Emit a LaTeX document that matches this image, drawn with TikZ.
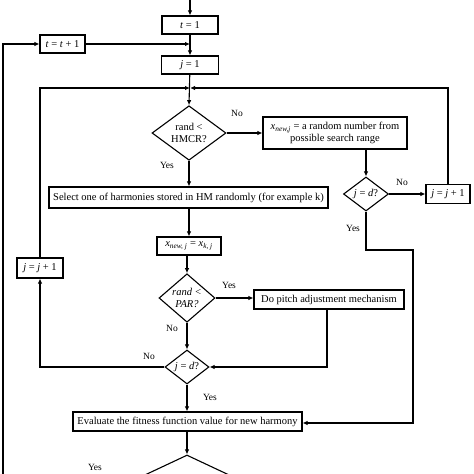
\documentclass[tikz,border=0pt]{standalone}
\usepackage{fontspec}
\setmainfont{Liberation Serif}
\usetikzlibrary{shapes.geometric,arrows.meta}
\begin{document}
\begin{tikzpicture}[x=1pt,y=-1pt,
  every node/.style={font=\fontsize{10.5}{11.5}\selectfont},
  box/.style={draw,line width=1.1pt,rectangle,inner sep=1pt,minimum height=18pt},
  dia/.style={draw,line width=1.1pt,diamond,inner sep=0pt,align=center,font=\fontsize{10.5}{11.5}\selectfont},
  lab/.style={font=\fontsize{9.5}{10}\selectfont,inner sep=1pt},
  con/.style={line width=1.1pt,-{Latex[length=5pt,width=4.5pt]}},
  ln/.style={line width=1.1pt}]
\useasboundingbox (0,0) rectangle (474,474);
\clip (0,0) rectangle (474,474);
% nodes
\node[box,minimum width=56pt] (t1) at (190,25) {\textit{t} = 1};
\node[box,minimum width=45pt] (tt) at (62.5,44) {\textit{t} = \textit{t} + 1};
\node[box,minimum width=57pt] (j1) at (190,65) {\textit{j} = 1};
\node[dia,minimum width=74pt,minimum height=52pt] (hmcr) at (189,133) {rand <\\HMCR?};
\node[box,minimum width=144pt,minimum height=32pt,align=center] (xnew) at (335,133)
  {\textit{x}\textsubscript{\textit{new,j}} = a random number from\\possible search range};
\node[dia,minimum width=45pt,minimum height=34pt] (jd1) at (366,194) {\textit{j} = \textit{d}?};
\node[box,minimum width=44pt,minimum height=19pt] (jj1) at (448,194) {\textit{j} = \textit{j} + 1};
\node[box,minimum width=279pt,minimum height=21pt] (sel) at (188.5,197.5)
  {Select one of harmonies stored in HM randomly (for example k)};
\node[box,minimum width=64pt] (xk) at (189,246)
  {\textit{x}\textsubscript{\textit{new, j}} = \textit{x}\textsubscript{\textit{k, j}}};
\node[dia,minimum width=56pt,minimum height=42pt] (par) at (187,298) {\textit{rand <}\\\textit{PAR?}};
\node[box,minimum width=150pt,minimum height=19pt] (pitch) at (329,299.5) {Do pitch adjustment mechanism};
\node[dia,minimum width=44pt,minimum height=34pt] (jd2) at (187,367) {\textit{j} = \textit{d}?};
\node[box,minimum width=46pt,minimum height=20pt] (jj2) at (40,268) {\textit{j} = \textit{j} + 1};
\node[box,minimum width=229pt,minimum height=19pt] (eval) at (187.5,421.5)
  {Evaluate the fitness function value for new harmony};
\node[dia,minimum width=170pt,minimum height=80pt] (last) at (187,495) {};
% coordinates
\coordinate (top) at (190,0);
\coordinate (lb) at (3,480);
\coordinate (junc) at (190,88);
% connectors
\draw[con] (top) -- (t1.north);
\draw[con] (t1) -- (j1);
\draw[con] (lb) -- (3,44) -- (tt.west);
\draw[con] (tt.east) -- (tt.east -| t1);
\draw[con] (j1) -- (hmcr.north);
\draw[con] (jj2.north) |- (junc);
\draw[con] (jj1.north) |- (junc);
\draw[con] (hmcr.east) -- (xnew.west |- hmcr.east);
\node[lab] (no1) at (237,113) {No};
\draw[con] (hmcr.south) -- (hmcr.south |- sel.north);
\node[lab] (yes1) at (167,165) {Yes};
\draw[con] (xnew.south -| jd1) -- (jd1.north);
\draw[con] (jd1.east) -- (jj1.west);
\node[lab] (no2) at (402,182) {No};
\draw[con] (jd1.south) -- (366,250) -- (413,250) -- (413,423) -- (eval.east |- 0,423);
\node[lab] (yes2) at (353,228) {Yes};
\draw[con] (sel.south -| xk) -- (xk.north);
\draw[con] (xk.south -| par) -- (par.north);
\draw[con] (par.east) -- (pitch.west |- par.east);
\node[lab] (yes3) at (229,285) {Yes};
\draw[con] (par.south) -- (jd2.north);
\node[lab] (no3) at (172,328) {No};
\draw[con] (pitch.south -| 327,0) -- (327,367) -- (jd2.east);
\draw[con] (jd2.west) -- (40,367) -- (jj2.south);
\node[lab] (no4) at (149,356) {No};
\draw[con] (jd2.south) -- (jd2.south |- eval.north);
\node[lab] (yes4) at (210,397) {Yes};
\draw[con] (eval.south -| last) -- (last.north);
\node[lab] (yes5) at (95,467) {Yes};
\end{tikzpicture}
\end{document}
